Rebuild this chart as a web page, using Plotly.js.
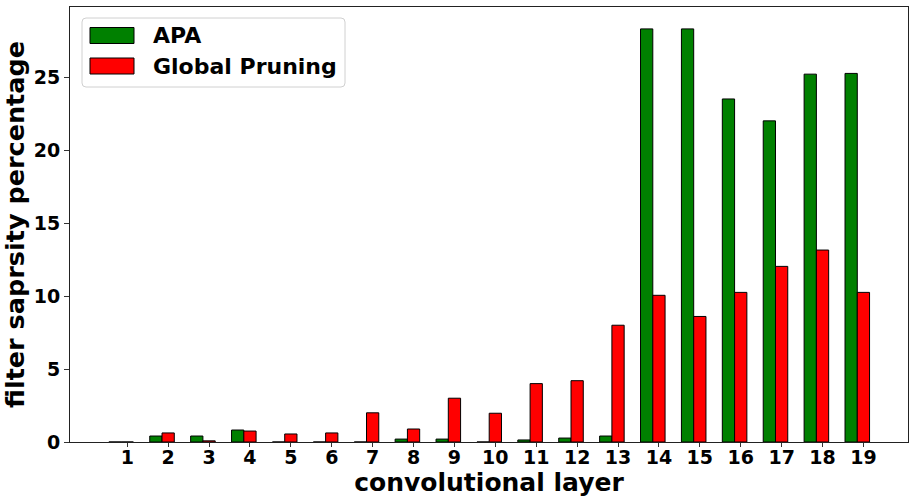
<!DOCTYPE html>
<html>
<head>
<meta charset="utf-8">
<script src="https://cdn.plot.ly/plotly-3.0.1.min.js"></script>
<style>
  html, body { margin: 0; padding: 0; background: #fff; }
  #chart { width: 914px; height: 503px; }
</style>
</head>
<body>
<div id="chart"></div>
<script>
// convolutional layers 1..19
var layers = [1, 2, 3, 4, 5, 6, 7, 8, 9, 10, 11, 12, 13, 14, 15, 16, 17, 18, 19];

// filter sparsity percentage per layer
var apaValues = [0, 0.41, 0.41, 0.82, 0, 0, 0, 0.2, 0.2, 0, 0.14, 0.27, 0.41, 28.3, 28.3, 23.5, 22.0, 25.2, 25.25];
var globalValues = [0, 0.62, 0.08, 0.75, 0.55, 0.62, 2.0, 0.89, 3.0, 1.97, 4.0, 4.2, 8.0, 10.05, 8.6, 10.25, 12.03, 13.15, 10.25];

var yTicks = [0, 5, 10, 15, 20, 25];

var seriesNames = ["APA", "Global Pruning"];
var seriesColors = ["#008000", "#ff0000"];

var barWidth = 0.3;

var apa = {
  x: layers,
  y: apaValues,
  name: seriesNames[0],
  type: "bar",
  width: barWidth,
  offset: -0.45,
  marker: { color: seriesColors[0], line: { color: "#000", width: 1 } }
};

var globalPruning = {
  x: layers,
  y: globalValues,
  name: seriesNames[1],
  type: "bar",
  width: barWidth,
  offset: -0.15,
  marker: { color: seriesColors[1], line: { color: "#000", width: 1 } }
};

var data = [apa, globalPruning];

var font = "DejaVu Sans, sans-serif";

// plot area in pixels, used to place the hand-made legend
var M = { l: 70, r: 6, t: 7, b: 61 };
var plotW = 914 - M.l - M.r;
var plotH = 503 - M.t - M.b;
function px(x) { return (x - M.l) / plotW; }
function py(y) { return (503 - M.b - y) / plotH; }

// legend box with rounded corners
var bx0 = 82, bx1 = 345, by0 = 18, by1 = 87, r = 4;
var boxPath = "M " + px(bx0 + r) + " " + py(by0) +
  " L " + px(bx1 - r) + " " + py(by0) +
  " Q " + px(bx1) + " " + py(by0) + " " + px(bx1) + " " + py(by0 + r) +
  " L " + px(bx1) + " " + py(by1 - r) +
  " Q " + px(bx1) + " " + py(by1) + " " + px(bx1 - r) + " " + py(by1) +
  " L " + px(bx0 + r) + " " + py(by1) +
  " Q " + px(bx0) + " " + py(by1) + " " + px(bx0) + " " + py(by1 - r) +
  " L " + px(bx0) + " " + py(by0 + r) +
  " Q " + px(bx0) + " " + py(by0) + " " + px(bx0 + r) + " " + py(by0) + " Z";

var shapes = [{
  type: "path", xref: "paper", yref: "paper", path: boxPath,
  fillcolor: "rgba(255,255,255,0.8)", line: { color: "#d0d0d0", width: 1 }
}];
var annotations = [];
var rowY = [35.5, 66];
seriesNames.forEach(function (name, i) {
  shapes.push({
    type: "rect", xref: "paper", yref: "paper",
    x0: px(90), x1: px(134), y0: py(rowY[i] - 8), y1: py(rowY[i] + 8),
    fillcolor: seriesColors[i], line: { color: "#000", width: 1 }
  });
  annotations.push({
    xref: "paper", yref: "paper", x: px(151), y: py(rowY[i]),
    xanchor: "left", yanchor: "middle", showarrow: false, text: name,
    font: { family: font, size: 22, weight: "bold", color: "#000" }
  });
});

var layout = {
  width: 914,
  height: 503,
  margin: M,
  barmode: "overlay",
  paper_bgcolor: "#fff",
  plot_bgcolor: "#fff",
  font: { family: font, color: "#000", size: 19, weight: "bold" },
  showlegend: false,
  shapes: shapes,
  annotations: annotations,
  xaxis: {
    title: { text: "convolutional layer", font: { family: font, size: 25, weight: "bold" }, standoff: 2 },
    range: [-0.4, 20.09],
    tickmode: "array",
    tickvals: layers,
    ticktext: layers.map(String),
    ticks: "outside", ticklen: 4, tickcolor: "#333",
    ticklabelstandoff: -6,
    showgrid: false, zeroline: false,
    showline: true, linecolor: "#222", linewidth: 1, mirror: true,
    tickfont: { family: font, size: 19, weight: "bold" }
  },
  yaxis: {
    title: { text: "filter saprsity percentage", font: { family: font, size: 25.5, weight: "bold" }, standoff: 6 },
    range: [0, 29.8],
    tickmode: "array",
    tickvals: yTicks,
    ticks: "outside", ticklen: 5, tickcolor: "#333",
    showgrid: false, zeroline: false,
    showline: true, linecolor: "#222", linewidth: 1, mirror: true,
    tickfont: { family: font, size: 19, weight: "bold" }
  }
};

Plotly.newPlot("chart", data, layout, { displayModeBar: false, staticPlot: true });
</script>
</body>
</html>
